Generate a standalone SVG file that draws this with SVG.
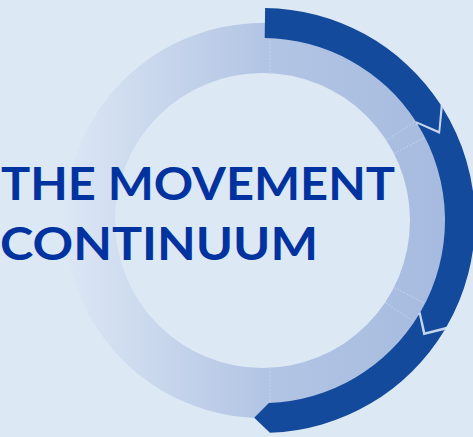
<svg xmlns="http://www.w3.org/2000/svg" width="473" height="437" viewBox="0 0 473 437">
  <defs>
    <linearGradient id="ringFade" gradientUnits="userSpaceOnUse" x1="65" y1="0" x2="460" y2="0">
      <stop offset="0" stop-color="#dce7f5"/>
      <stop offset="0.5" stop-color="#b3c5e4"/>
      <stop offset="1" stop-color="#a5badf"/>
    </linearGradient>
  </defs>
  <style>
    .bg { fill: #dde8f5; }
    .seg { fill: #144a9b; }
    .gap { fill: none; stroke: #c6d5ee; stroke-width: 4; stroke-linejoin: miter; }
    .seam { stroke: #c9d7ef; stroke-width: 1; stroke-dasharray: 2 1.5; opacity: 0.8; }
    .title { font-family: "Lato", "Liberation Sans", sans-serif; font-weight: 700; font-size: 45px; fill: #0033a0; }
  </style>

  <rect class="bg" x="0" y="0" width="473" height="437"/>

  <!-- pale base ring, centre (262.5, 220.5), radii 147.5 / 197.5 -->
  <g id="base-ring">
    <path fill="url(#ringFade)" fill-rule="evenodd"
      d="M 460 220.5 A 197.5 197.5 0 1 1 65 220.5 A 197.5 197.5 0 1 1 460 220.5 Z
         M 410 220.5 A 147.5 147.5 0 1 0 115 220.5 A 147.5 147.5 0 1 0 410 220.5 Z"/>
    <line class="seam" x1="270" y1="23" x2="270" y2="73"/>
    <line class="seam" x1="270" y1="368" x2="270" y2="418"/>
    <line class="seam" x1="385.9" y1="140.4" x2="414.7" y2="121.8"/>
    <line class="seam" x1="393.9" y1="153.5" x2="424.7" y2="137.8"/>
    <line class="seam" x1="393.9" y1="287.5" x2="424.7" y2="303.2"/>
    <line class="seam" x1="385.4" y1="302.6" x2="414.2" y2="321.9"/>
  </g>

  <!-- light joints between the arrow segments -->
  <g id="connectors">
    <polyline class="gap" points="441.7,106.3 439.2,132.4 416.4,122.4"/>
    <polyline class="gap" points="445.6,328.4 424.3,333.8 419.7,313.1"/>
  </g>

  <!-- three clockwise arrow segments, radii 182.5 / 212.5 -->
  <g id="segment-1">
    <path class="seg" d="M 265.1 8.0 A 212.5 212.5 0 0 1 440.72 104.76 L 438.47 130.84 L 415.56 121.10 A 182.5 182.5 0 0 0 264.7 38.0 Z"/>
  </g>
  <g id="segment-2">
    <path class="seg" d="M 442.71 107.89 A 212.5 212.5 0 0 1 446.53 326.75 L 425.26 332.37 L 420.55 311.75 A 182.5 182.5 0 0 0 417.27 123.79 L 440.01 133.92 Z"/>
  </g>
  <g id="segment-3">
    <path class="seg" d="M 444.65 329.95 A 212.5 212.5 0 0 1 269.92 432.87 L 254.23 417.83 L 268.87 402.89 A 182.5 182.5 0 0 0 418.93 314.50 L 423.29 335.19 Z"/>
  </g>

  <g id="title">
    <text class="title" x="1" y="200" textLength="394" lengthAdjust="spacingAndGlyphs">THE MOVEMENT</text>
    <text class="title" x="0" y="260" textLength="318" lengthAdjust="spacingAndGlyphs">CONTINUUM</text>
  </g>
</svg>
